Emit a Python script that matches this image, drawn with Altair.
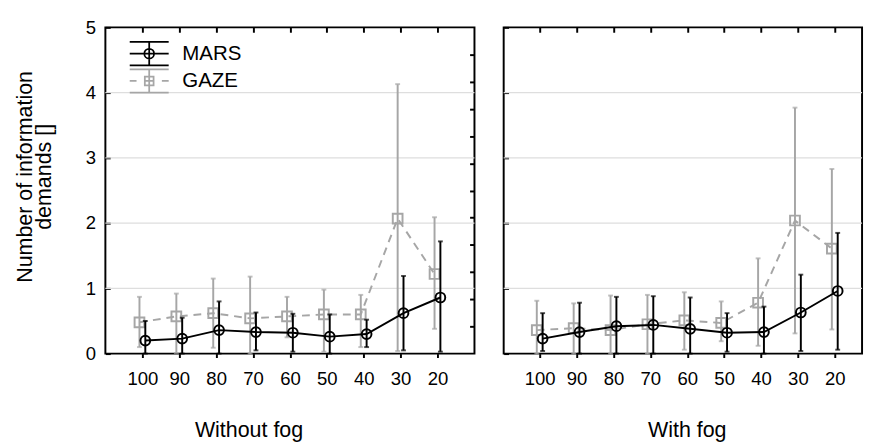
import altair as alt
import pandas as pd

FONT = "Liberation Sans"

speeds = ["100", "90", "80", "70", "60", "50", "40", "30", "20"]
series_names = ["MARS", "GAZE"]
panel_titles = ["Without fog", "With fog"]

# Without fog
mars_nf_mean = [0.20, 0.23, 0.36, 0.33, 0.32, 0.26, 0.30, 0.62, 0.86]
mars_nf_lo = [0.00, 0.00, 0.00, 0.05, 0.03, 0.00, 0.10, 0.05, 0.03]
mars_nf_hi = [0.50, 0.55, 0.80, 0.63, 0.61, 0.60, 0.52, 1.19, 1.72]
gaze_nf_mean = [0.48, 0.57, 0.62, 0.54, 0.57, 0.60, 0.60, 2.07, 1.22]
gaze_nf_lo = [0.10, 0.01, 0.09, 0.00, 0.25, 0.03, 0.10, 0.04, 0.38]
gaze_nf_hi = [0.87, 0.92, 1.15, 1.18, 0.87, 0.98, 0.90, 4.13, 2.09]

# With fog
mars_f_mean = [0.23, 0.33, 0.42, 0.44, 0.38, 0.32, 0.33, 0.63, 0.96]
mars_f_lo = [0.04, 0.00, 0.00, 0.00, 0.00, 0.03, 0.00, 0.04, 0.06]
mars_f_hi = [0.62, 0.78, 0.87, 0.88, 0.86, 0.62, 0.72, 1.21, 1.85]
gaze_f_mean = [0.36, 0.39, 0.36, 0.45, 0.51, 0.47, 0.78, 2.04, 1.61]
gaze_f_lo = [0.00, 0.00, 0.00, 0.00, 0.06, 0.19, 0.12, 0.31, 0.37]
gaze_f_hi = [0.81, 0.77, 0.89, 0.90, 0.94, 0.80, 1.46, 3.77, 2.83]

y_ticks = [0, 1, 2, 3, 4, 5]
grid_values = [1, 2, 3, 4]
right_border_ticks = [0.4167, 0.8333, 1.25, 1.6667, 2.0833, 2.5, 2.9167,
                      3.3333, 3.75, 4.1667, 4.5833]

MARS_COLOR = "#000000"
GAZE_COLOR = "#a6a6a6"
GRID_COLOR = "#dedede"

MARS_LEGEND_PATH = ("M-2,-1.2H2M-2,1.2H2M-2,0H2M0,-1.2V1.2"
                    "M0.5,0A0.5,0.5 0 1,1 -0.5,0A0.5,0.5 0 1,1 0.5,0")
GAZE_LEGEND_PATH = ("M-2,-1.2H2M-2,1.2H2M0,-1.2V1.2"
                    "M-2,0H-1.3M1.3,0H2"
                    "M-0.45,-0.45H0.45V0.45H-0.45ZM-0.45,0H0.45")

yscale = alt.Scale(domain=[0, 5], nice=False, zero=True)


def make_df(series, mean, lo, hi):
    return pd.DataFrame({"series": series, "speed": speeds,
                         "mean": mean, "lo": lo, "hi": hi})


def panel(title, mars, gaze, width, xrange, title_x, first):
    mdf = make_df("MARS", *mars)
    gdf = make_df("GAZE", *gaze)
    xs = alt.Scale(type="point", domain=speeds, range=xrange, padding=0)

    x_bottom = alt.Axis(orient="bottom", labelAngle=0, tickSize=4, tickWidth=2,
                        tickColor="black", domain=False, grid=False,
                        labelFontSize=19, labelPadding=13, labelColor="black",
                        title=title, titleFontSize=22, titleFontWeight="normal",
                        titleColor="black", titlePadding=32, titleX=title_x)
    x_top = alt.Axis(orient="top", offset=-5, tickSize=5, tickWidth=2,
                     tickColor="black", labels=False, domain=False, grid=False,
                     title=None)
    if first:
        y_left = alt.Axis(orient="left", values=y_ticks, offset=-5, tickSize=5,
                          tickWidth=2, tickColor="black", domain=False, grid=False,
                          labelFontSize=19, labelPadding=10, labelColor="black",
                          title=["Number of information", "demands []"],
                          titleFontSize=22, titleFontWeight="normal",
                          titleColor="black", titlePadding=31, titleLineHeight=19,
                          titleY=153)
        y_right = alt.Axis(orient="right", values=right_border_ticks, offset=-5,
                           tickSize=5, tickWidth=2, tickColor="black",
                           labels=False, domain=False, grid=False, title=None)
    else:
        y_left = alt.Axis(orient="left", values=y_ticks, offset=-5, tickSize=5,
                          tickWidth=2, tickColor="black", domain=False, grid=False,
                          labels=False, title=None)
        y_right = None

    grid = alt.Chart(pd.DataFrame({"g": grid_values})).mark_rule(
        color=GRID_COLOR, strokeWidth=1.5
    ).encode(y=alt.Y("g:Q", scale=yscale, axis=y_right))

    def series_layers(df, color, off, dash, shape, xaxis=None, yaxis=None):
        whisk = alt.Chart(df).mark_rule(color=color, strokeWidth=2, xOffset=off).encode(
            x=alt.X("speed:N", scale=xs, axis=xaxis),
            y=alt.Y("lo:Q", scale=yscale, axis=None),
            y2="hi:Q",
        )
        cap_lo = alt.Chart(df).mark_tick(color=color, size=5, thickness=2,
                                         xOffset=off).encode(
            x=alt.X("speed:N", scale=xs, axis=None),
            y=alt.Y("lo:Q", scale=yscale, axis=None),
        )
        cap_hi = alt.Chart(df).mark_tick(color=color, size=5, thickness=2,
                                         xOffset=off).encode(
            x=alt.X("speed:N", scale=xs, axis=None),
            y=alt.Y("hi:Q", scale=yscale, axis=None),
        )
        line_kwargs = dict(color=color, strokeWidth=2, xOffset=off)
        if dash:
            line_kwargs["strokeDash"] = [8, 6]
        line = alt.Chart(df).mark_line(**line_kwargs).encode(
            x=alt.X("speed:N", scale=xs, axis=None),
            y=alt.Y("mean:Q", scale=yscale, axis=yaxis),
        )
        pts = alt.Chart(df).mark_point(filled=False, size=100, strokeWidth=2,
                                       shape=shape, color=color,
                                       xOffset=off, opacity=1).encode(
            x=alt.X("speed:N", scale=xs, axis=None),
            y=alt.Y("mean:Q", scale=yscale, axis=None),
        )
        return [whisk, cap_lo, cap_hi, line, pts]

    g_layers = series_layers(gdf, GAZE_COLOR, -3, True, "square",
                             xaxis=x_top, yaxis=None)
    m_layers = series_layers(mdf, MARS_COLOR, 3, False, "circle",
                             xaxis=x_bottom, yaxis=y_left)
    layers = [grid, *g_layers, *m_layers]

    if first:
        leg = alt.Legend(
            title=None, orient="none", legendX=34, legendY=16,
            labelFontSize=21, labelFont=FONT, labelColor="black",
            symbolSize=400, symbolStrokeWidth=1.8, labelOffset=23,
            rowPadding=-4, symbolFillColor="transparent",
        )
        legend_layer = alt.Chart(pd.concat([mdf, gdf])).transform_filter(
            "false"
        ).mark_point(filled=False, strokeWidth=1.8, opacity=1).encode(
            x=alt.X("speed:N", scale=xs, axis=None),
            y=alt.Y("mean:Q", scale=yscale, axis=None),
            color=alt.Color("series:N",
                            scale=alt.Scale(domain=series_names,
                                            range=[MARS_COLOR, GAZE_COLOR]),
                            legend=leg),
            shape=alt.Shape("series:N",
                            scale=alt.Scale(domain=series_names,
                                            range=[MARS_LEGEND_PATH,
                                                   GAZE_LEGEND_PATH]),
                            legend=leg),
        )
        layers.append(legend_layer)

    return alt.layer(*layers).resolve_axis(
        x="independent", y="independent"
    ).properties(width=width, height=335)


left = panel(panel_titles[0],
             (mars_nf_mean, mars_nf_lo, mars_nf_hi),
             (gaze_nf_mean, gaze_nf_lo, gaze_nf_hi),
             379, [38, 341], 147, True)
right = panel(panel_titles[1],
              (mars_f_mean, mars_f_lo, mars_f_hi),
              (gaze_f_mean, gaze_f_lo, gaze_f_hi),
              368, [37, 340], 188, False)

chart = alt.hconcat(left, right, spacing=26).resolve_legend(
    color="independent", shape="independent"
).properties(
    padding={"left": 5, "top": 4, "right": 0, "bottom": 0}
).configure_view(
    stroke="black", strokeWidth=2
).configure_axis(
    labelFont=FONT, titleFont=FONT
).configure_legend(
    labelFont=FONT
)

chart.save("out.html", embed_options={"renderer": "svg", "actions": False})
